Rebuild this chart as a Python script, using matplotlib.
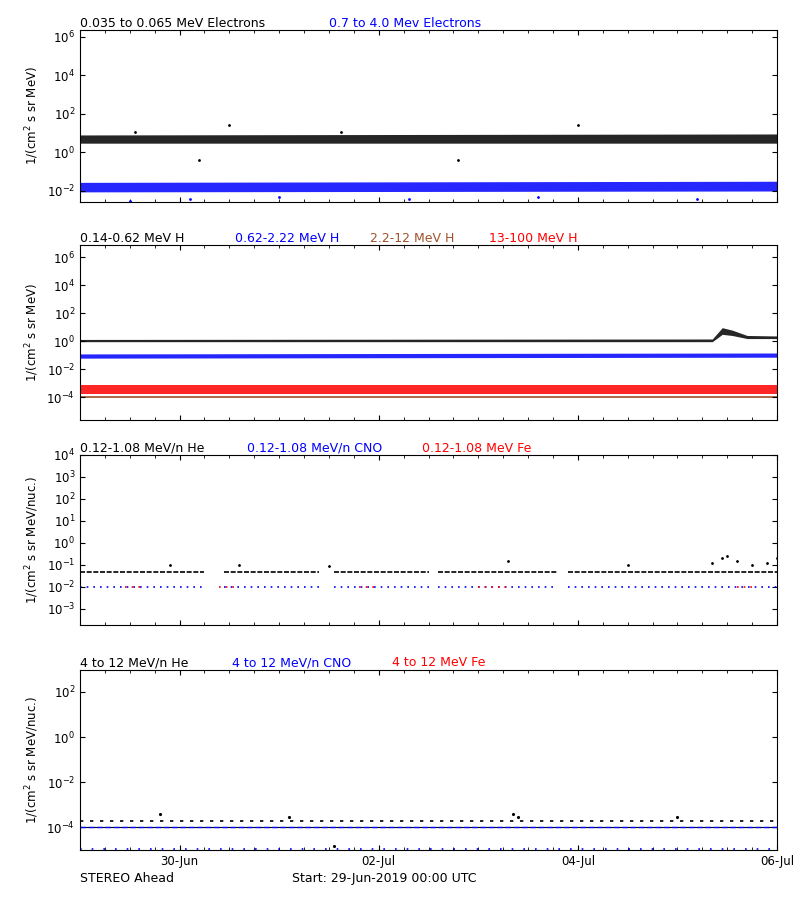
import matplotlib
matplotlib.use('Agg')
import matplotlib.pyplot as plt
import numpy as np

plt.rcParams['font.family'] = ['DejaVu Sans']
plt.rcParams['font.size'] = 8.5

# time in days since 29-Jun-2019 00:00 UTC
tick_pos = [1, 3, 5, 7]
tick_lab = ['30-Jun', '02-Jul', '04-Jul', '06-Jul']

# band knots: time, low, high
e_black = ([0, 7], [3.0, 3.0], [8.0, 9.0])
e_blue = ([0, 7], [0.009, 0.010], [0.028, 0.032])
e_black_out_t = [0.55, 1.5, 2.62, 5.0, 1.2, 3.8]
e_black_out_v = [12, 25, 12, 25, 0.4, 0.4]
e_blue_out_t = [0.5, 1.1, 2.0, 3.3, 4.6, 6.2]
e_blue_out_v = [0.003, 0.004, 0.005, 0.004, 0.005, 0.004]

h_black = ([0, 6.35, 6.45, 6.55, 6.7, 7], [0.9, 0.9, 3.0, 2.5, 1.5, 1.5], [1.3, 1.4, 9.0, 6.0, 2.5, 2.3])
h_blue = ([0, 7], [0.06, 0.07], [0.12, 0.14])
h_red = ([0, 7], [1.7e-4, 1.7e-4], [7e-4, 7e-4])
h_brown = ([0, 7], [0.9e-4, 0.9e-4], [1.2e-4, 1.2e-4])

he_level = 0.05
he_gaps = [(1.25, 1.45), (2.4, 2.55), (3.5, 3.6), (4.8, 4.9)]
he_spike_t = [6.35, 6.45, 6.5, 6.6, 6.75, 6.9, 7.0, 0.9, 1.6, 2.5, 4.3, 5.5]
he_spike_v = [0.12, 0.2, 0.25, 0.15, 0.1, 0.12, 0.2, 0.1, 0.1, 0.09, 0.15, 0.1]
cno_level = 0.01
fe_seg = [(0.45, 0.65), (1.4, 1.55), (2.8, 3.0), (4.0, 4.3), (6.6, 6.75)]

he4_level = 2e-4
he4_out_t = [0.8, 2.1, 2.55, 4.35, 4.4, 6.0]
he4_out_v = [4e-4, 3e-4, 1.5e-5, 4e-4, 3e-4, 3e-4]
cno4_level = 1e-4
fe4_level = 1.1e-5

fig = plt.figure(figsize=(8, 9), dpi=100)
W, H = 800.0, 900.0
def ax_at(top, bot):
    return fig.add_axes([80 / W, 1 - bot / H, 697 / W, (bot - top) / H])

def style(ax, ylim, ylabel, show_x=False):
    ax.set_yscale('log')
    ax.set_ylim(*ylim)
    ax.set_xlim(0, 7)
    ax.set_xticks(tick_pos)
    ax.set_xticks(np.arange(0, 7, 0.25), minor=True)
    ax.set_xticklabels(tick_lab if show_x else [])
    ax.tick_params(which='both', direction='in', top=True, right=True)
    ax.set_ylabel(ylabel)

def band(ax, spec, color):
    t, lo, hi = spec
    ax.fill_between(t, lo, hi, color=color, linewidth=0, alpha=0.85)

def titles(ax, parts):
    x = 0.0
    for txt, c, dx in parts:
        ax.text(x, 1.02, txt, color=c, transform=ax.transAxes, fontsize=9)
        x += dx

ylab1 = '1/(cm$^2$ s sr MeV)'
ylab2 = '1/(cm$^2$ s sr MeV/nuc.)'

ax1 = ax_at(30, 202)
style(ax1, (10 ** -2.57, 10 ** 6.34), ylab1)
ax1.set_yticks([1e-2, 1, 1e2, 1e4, 1e6])
band(ax1, e_black, 'black')
band(ax1, e_blue, 'blue')
ax1.plot(e_black_out_t, e_black_out_v, 'k.', ms=2)
ax1.plot(e_blue_out_t, e_blue_out_v, 'b.', ms=2)
titles(ax1, [('0.035 to 0.065 MeV Electrons', 'black', 0.357), ('0.7 to 4.0 Mev Electrons', 'blue', 0.3)])

ax2 = ax_at(245, 420)
style(ax2, (10 ** -5.64, 10 ** 6.86), ylab1)
ax2.set_yticks([1e-4, 1e-2, 1, 1e2, 1e4, 1e6])
band(ax2, h_brown, 'sienna')
band(ax2, h_red, 'red')
band(ax2, h_blue, 'blue')
band(ax2, h_black, 'black')
titles(ax2, [('0.14-0.62 MeV H', 'black', 0.222), ('0.62-2.22 MeV H', 'blue', 0.194),
             ('2.2-12 MeV H', 'sienna', 0.171), ('13-100 MeV H', 'red', 0.2)])

ax3 = ax_at(455, 625)
style(ax3, (10 ** -3.73, 1e4), ylab2)
ax3.set_yticks([1e-3, 1e-2, 1e-1, 1, 1e1, 1e2, 1e3, 1e4])
edges = [0] + [g for gap in he_gaps for g in gap] + [7]
for a, b in zip(edges[0::2], edges[1::2]):
    ax3.hlines(he_level, a, b, color='black', lw=1.2, linestyles=(0, (3, 1)))
    ax3.hlines(cno_level, a, b, color='blue', lw=1.2, linestyles=(0, (1, 3)))
for a, b in fe_seg:
    ax3.hlines(cno_level, a, b, color='red', lw=1.2, linestyles=(0, (1, 3)))
ax3.plot(he_spike_t, he_spike_v, 'k.', ms=2)
titles(ax3, [('0.12-1.08 MeV/n He', 'black', 0.24), ('0.12-1.08 MeV/n CNO', 'blue', 0.25),
             ('0.12-1.08 MeV Fe', 'red', 0.25)])

ax4 = ax_at(670, 850)
style(ax4, (1e-5, 10 ** 2.97), ylab2, show_x=True)
ax4.set_yticks([1e-4, 1e-2, 1, 1e2])
ax4.axhline(cno4_level, color='black', lw=0.8)
ax4.hlines(cno4_level, 0, 7, color='blue', lw=1.0, linestyles=(0, (4, 2)))
ax4.hlines(he4_level, 0, 7, color='black', lw=1.2, linestyles=(0, (2, 4)))
ax4.hlines(fe4_level, 0, 7, color='blue', lw=1.2, linestyles=(0, (1, 6)))
ax4.plot(he4_out_t, he4_out_v, 'k.', ms=2.5)
titles(ax4, [('4 to 12 MeV/n He', 'black', 0.218), ('4 to 12 MeV/n CNO', 'blue', 0.23),
             ('4 to 12 MeV Fe', 'red', 0.2)])

fig.text(80 / W, 1 - 882 / H, 'STEREO Ahead', fontsize=9)
fig.text(292 / W, 1 - 882 / H, 'Start: 29-Jun-2019 00:00 UTC', fontsize=9)

fig.savefig('out.png', dpi=100)
